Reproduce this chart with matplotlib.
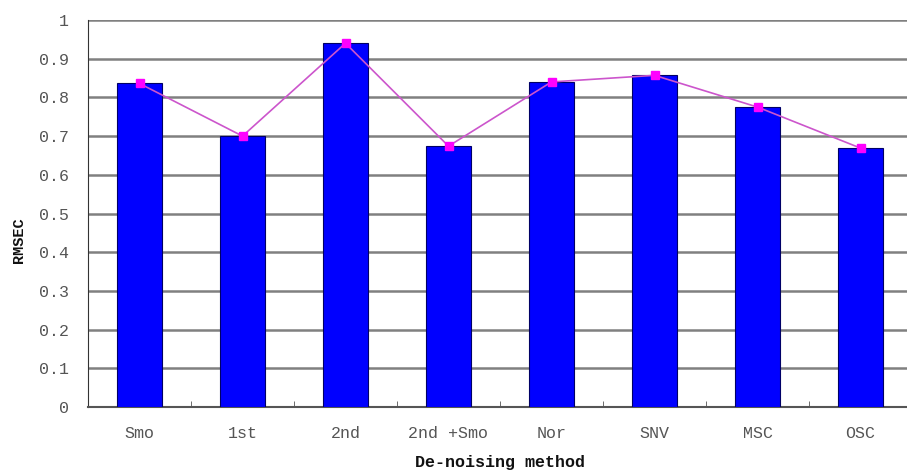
import matplotlib
matplotlib.use("Agg")
import matplotlib.pyplot as plt
import numpy as np

methods = ["Smo", "1st", "2nd", "2nd +Smo", "Nor", "SNV", "MSC", "OSC"]
rmsec = [0.836, 0.700, 0.940, 0.674, 0.840, 0.857, 0.775, 0.669]
yticks = [0, 0.1, 0.2, 0.3, 0.4, 0.5, 0.6, 0.7, 0.8, 0.9, 1.0]
ytick_labels = ["0", "0.1", "0.2", "0.3", "0.4", "0.5", "0.6", "0.7", "0.8", "0.9", "1"]

W, H = 907, 476
fig = plt.figure(figsize=(W / 100, H / 100), dpi=100)
left, right, top, bottom = 88, 912, 20, 407
ax = fig.add_axes([left / W, 1 - bottom / H, (right - left) / W, (bottom - top) / H])

x = np.arange(len(methods))
ax.bar(x, rmsec, width=0.43, color="#0000FF", edgecolor="#000066", linewidth=0.8, zorder=3)
ax.plot(x, rmsec, color="#CC55CC", linewidth=1.2, marker="s", markersize=6,
        markerfacecolor="#FF00FF", markeredgecolor="#FF00FF", zorder=4)

ax.set_xlim(-0.5, len(methods) - 0.5)
ax.set_ylim(0, 1)
ax.set_yticks(yticks)
ax.set_yticklabels(ytick_labels)
ax.yaxis.grid(True, color="#808080", linewidth=1.8, zorder=0)
ax.set_axisbelow(True)

ax.set_xticks(x)
ax.set_xticklabels(methods)
ax.set_xticks(np.arange(len(methods) + 1) - 0.5, minor=True)
ax.tick_params(axis="x", which="major", length=0, pad=14)
ax.tick_params(axis="x", which="minor", length=4, direction="in", color="#555555")
ax.tick_params(axis="y", length=0, pad=14)

font = "Liberation Mono"
for lab in ax.get_xticklabels() + ax.get_yticklabels():
    lab.set_fontfamily(font)
    lab.set_fontsize(12)
    lab.set_color("#555555")

for side in ["top", "right"]:
    ax.spines[side].set_visible(False)
ax.spines["left"].set_color("#333333")
ax.spines["bottom"].set_color("#555555")
ax.spines["bottom"].set_linewidth(1.5)

ax.set_xlabel("De-noising method", fontfamily=font, fontsize=12, fontweight="bold",
              color="#111111", labelpad=10)
ax.set_ylabel("RMSEC", fontfamily=font, fontsize=11, fontweight="bold",
              color="#111111")
ax.yaxis.set_label_coords(-0.075, 0.43)

fig.savefig("out.png", dpi=100)
